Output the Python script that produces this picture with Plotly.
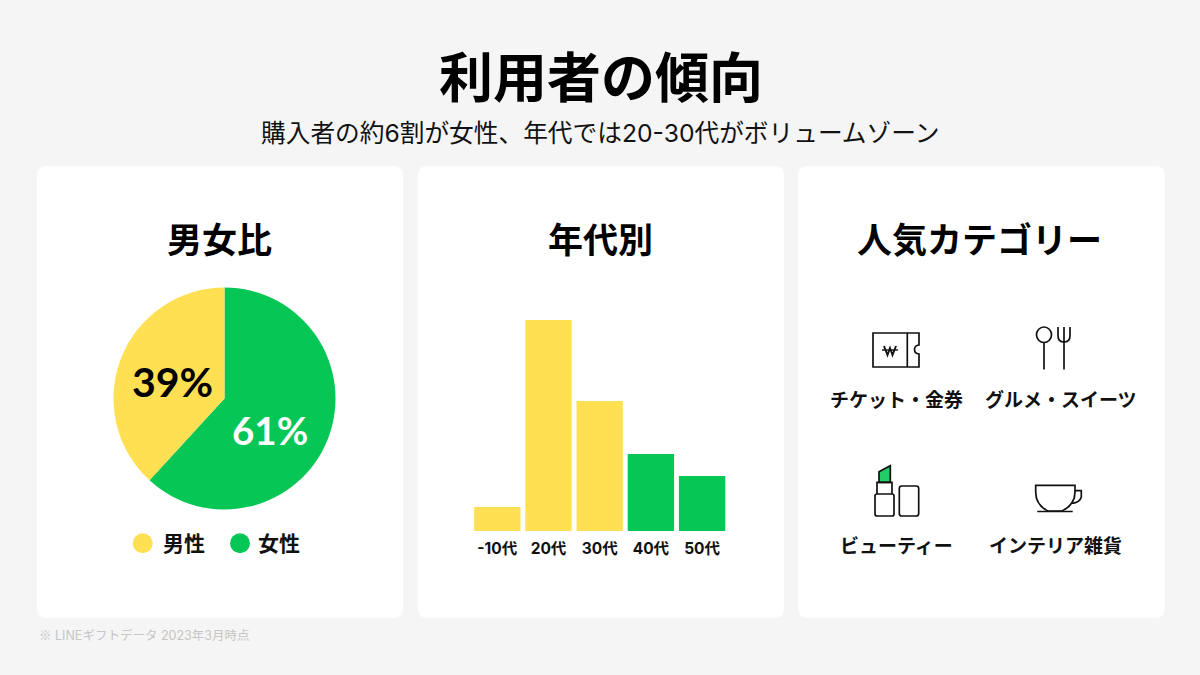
import plotly.graph_objects as go

W, H = 1200, 675
FONT = "Inter, 'Noto Sans CJK JP', sans-serif"
JP = "'Noto Sans CJK JP', sans-serif"
NUM = "Lato, Inter, sans-serif"
YELLOW = "#FFE053"
GREEN = "#06C755"
INK = "#111111"

gender_labels = ["女性", "男性"]
gender_shares = [61.8, 38.2]
gender_texts = ["61%", "39%"]
age_labels = ["-10代", "20代", "30代", "40代", "50代"]
age_values = [4.8, 42.2, 26.0, 15.4, 11.0]
age_colors = [YELLOW, YELLOW, YELLOW, GREEN, GREEN]
categories = ["チケット・金券", "グルメ・スイーツ", "ビューティー", "インテリア雑貨"]


def px(x):
    return x / W


def py(y):
    return 1 - y / H


def P(d):
    """Turn 'M x y L x y' strings in pixels into paper coordinates."""
    out, is_x = [], True
    for tok in d.split():
        try:
            v = float(tok)
        except ValueError:
            out.append(tok)
            continue
        out.append(f"{px(v):.5f}" if is_x else f"{py(v):.5f}")
        is_x = not is_x
    return " ".join(out)


shapes, annotations = [], []


def path(d, color=INK, width=1.7, fill="rgba(0,0,0,0)"):
    shapes.append(dict(type="path", xref="paper", yref="paper", path=P(d), layer="above",
                       line=dict(color=color, width=width), fillcolor=fill))


def round_rect(x0, y0, x1, y1, r):
    return (f"M {x0+r} {y0} L {x1-r} {y0} Q {x1} {y0} {x1} {y0+r} L {x1} {y1-r} Q {x1} {y1} {x1-r} {y1} "
            f"L {x0+r} {y1} Q {x0} {y1} {x0} {y1-r} L {x0} {y0+r} Q {x0} {y0} {x0+r} {y0} Z")


def text(s, x, y, size, color=INK, weight=700, family=JP):
    annotations.append(dict(text=s, x=px(x), y=py(y), xref="paper", yref="paper", showarrow=False,
                            xanchor="center", yanchor="middle",
                            font=dict(size=size, color=color, family=family, weight=weight)))


# cards
for x0, x1 in [(37, 403), (417.5, 784), (798, 1165)]:
    shapes.append(dict(type="path", xref="paper", yref="paper", layer="below",
                       path=P(round_rect(x0, 166, x1, 618, 10)),
                       fillcolor="#ffffff", line=dict(width=0)))

# headings
text("利用者の傾向", 601, 74, 54, "#000000", 700)
text("購入者の約6割が女性、年代では20-30代がボリュームゾーン", 600, 132.5, 24.7, INK, 400, FONT)
text("男女比", 220, 238, 35, "#000000", 700)
text("年代別", 600, 238, 35, "#000000", 700)
text("人気カテゴリー", 979.5, 238, 35, "#000000", 700)
annotations.append(dict(text="<span style=\"font-family:'Noto Sans CJK JP'\">※</span> LINEギフトデータ 2023年3月時点",
                        x=px(37), y=py(634), xref="paper", yref="paper",
                        showarrow=False, xanchor="left", yanchor="middle",
                        font=dict(size=12.5, color="#c6c6c6", family=FONT, weight=400)))

# pie value labels and legend
text(gender_texts[1], 172.5, 381.5, 41, "#000000", 700, NUM)
text(gender_texts[0], 269.5, 430, 38.5, "#ffffff", 700, NUM)
for cx, col, lab, tx in [(142.7, YELLOW, gender_labels[1], 183.5), (240, GREEN, gender_labels[0], 278.5)]:
    shapes.append(dict(type="circle", xref="paper", yref="paper", layer="above",
                       x0=px(cx-10), x1=px(cx+10), y0=py(553.3), y1=py(533.3),
                       fillcolor=col, line=dict(width=0)))
    text(lab, tx, 541.5, 21, INK, 700)

# category captions
text(categories[0], 896.5, 398.5, 19)
text(categories[1], 1060.5, 398.5, 19)
text(categories[2], 896, 544.5, 19)
text(categories[3], 1055, 544.5, 19)

# ticket icon
path("M 873 333 L 919 333 L 919 345 Q 914.5 345.5 914.5 349.5 Q 914.5 353.5 919 354 L 919 367 L 873 367 Z")
path("M 907.3 333 L 907.3 367")
path("M 884 346 L 887.5 355 L 890 348 L 892.5 355 L 896 346", width=1.9)
path("M 882 350 L 898 350", width=1.4)

# spoon and fork
shapes.append(dict(type="circle", xref="paper", yref="paper", layer="above",
                   x0=px(1036.5), x1=px(1051.5), y0=py(342.5), y1=py(327),
                   line=dict(color=INK, width=1.7), fillcolor="rgba(0,0,0,0)"))
path("M 1044 342.5 L 1044 369.5")
path("M 1064 327 L 1064 369.5")
path("M 1058 327 L 1058 336 Q 1058 342 1064 342 Q 1070 342 1070 336 L 1070 327")

# lipstick
path("M 879 482.3 L 879 471.7 L 890.3 465.7 L 890.3 482.3 Z", fill="#22CC66")
path("M 877 494 L 877 482.3 L 892 482.3 L 892 494")
path(round_rect(875, 494, 894, 516, 2))
path(round_rect(899.3, 486, 918.7, 516, 2.5))

# cup
path("M 1035.7 485.3 L 1075 485.3 L 1075 492 Q 1075 505 1061.7 511 L 1048 511 Q 1035.7 505 1035.7 492 Z")
path("M 1075 490.7 L 1081.3 490.7 L 1081.3 497 Q 1080 503 1070.5 503.5")
path("M 1037.3 511.5 L 1072.7 511.5")

fig = go.Figure()
fig.add_trace(go.Pie(labels=gender_labels, values=gender_shares, sort=False, direction="clockwise",
                     rotation=0, marker=dict(colors=[GREEN, YELLOW], line=dict(width=0)),
                     textinfo="none", hoverinfo="label", showlegend=False,
                     domain=dict(x=[px(113.5), px(335.5)], y=[py(509.5), py(287.5)])))
fig.add_trace(go.Bar(x=age_labels, y=age_values, marker=dict(color=age_colors, line=dict(width=0)),
                     width=0.905, showlegend=False, hoverinfo="x+y"))

fig.update_layout(
    width=W, height=H, margin=dict(l=0, r=0, t=0, b=0), autosize=False,
    paper_bgcolor="#F5F5F5", plot_bgcolor="rgba(0,0,0,0)", showlegend=False,
    shapes=shapes, annotations=annotations,
    xaxis=dict(domain=[px(471.7), px(727.7)], range=[-0.5, 4.5], type="category", showgrid=False,
               zeroline=False, showline=False, ticks="", ticklabelstandoff=6,
               tickfont=dict(size=15.5, color=INK, family=FONT, weight=700), fixedrange=True),
    yaxis=dict(domain=[py(531), py(320)], range=[0, 42.2], visible=False, showgrid=False,
               zeroline=False, fixedrange=True),
)

fig.write_html("out.html", config=dict(displayModeBar=False),
               post_script="document.body.style.margin='0';document.body.style.background='#F5F5F5';")
